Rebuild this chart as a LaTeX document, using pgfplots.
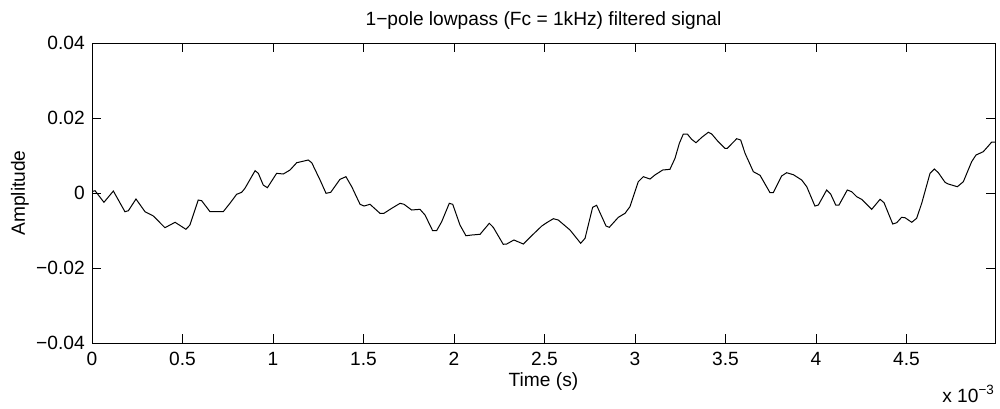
\documentclass[border=0pt]{standalone}
\usepackage{fontspec}
\setmainfont{Liberation Sans}
\usepackage{pgfplots}
\usepackage{pgfplotstable}
\pgfplotsset{compat=1.18}

% x in ms (axis shows x 10^-3 s), y in units of 1e-3
\pgfplotstableread{
x y
0.000 0.40
0.017 0.61
0.066 -2.48
0.118 0.53
0.182 -4.99
0.201 -4.72
0.243 -1.60
0.293 -4.99
0.339 -6.13
0.403 -9.25
0.459 -7.81
0.519 -9.68
0.541 -8.53
0.587 -1.87
0.606 -2.05
0.652 -4.99
0.725 -4.99
0.762 -2.75
0.799 -0.35
0.827 0.19
0.845 1.25
0.901 5.95
0.919 5.25
0.946 2.13
0.969 1.41
1.020 5.25
1.057 5.07
1.094 6.13
1.131 8.08
1.195 8.80
1.214 8.08
1.260 3.47
1.293 -0.08
1.319 0.19
1.370 3.65
1.403 4.35
1.435 1.68
1.481 -3.01
1.503 -3.47
1.536 -3.01
1.591 -5.41
1.613 -5.41
1.656 -4.08
1.702 -2.75
1.724 -3.01
1.766 -4.53
1.812 -4.35
1.840 -5.87
1.882 -10.05
1.904 -10.05
1.932 -7.65
1.974 -2.75
1.993 -3.01
2.033 -8.53
2.066 -11.39
2.098 -11.20
2.144 -11.01
2.195 -8.08
2.217 -9.15
2.272 -13.68
2.291 -13.60
2.331 -12.53
2.383 -13.60
2.420 -11.81
2.485 -8.80
2.512 -7.92
2.549 -6.85
2.576 -7.20
2.641 -9.87
2.700 -13.41
2.724 -12.08
2.766 -3.81
2.788 -3.28
2.840 -8.80
2.858 -9.15
2.908 -6.48
2.945 -5.41
2.972 -3.65
3.018 3.01
3.046 4.35
3.083 3.73
3.110 4.80
3.153 6.13
3.193 6.32
3.221 9.25
3.245 13.25
3.267 15.73
3.289 15.73
3.313 14.32
3.337 13.41
3.369 14.85
3.405 16.19
3.424 15.73
3.460 13.68
3.497 11.92
3.510 11.92
3.562 14.48
3.584 14.13
3.608 10.59
3.654 5.68
3.691 4.72
3.746 0.08
3.764 0.08
3.810 4.53
3.838 5.41
3.875 4.88
3.921 3.47
3.949 1.68
3.994 -3.47
4.013 -3.20
4.059 0.80
4.081 -0.27
4.109 -3.20
4.127 -3.20
4.173 0.80
4.197 0.35
4.225 -0.99
4.252 -1.68
4.308 -4.35
4.354 -1.68
4.376 -2.59
4.424 -8.27
4.446 -7.92
4.473 -6.48
4.492 -6.59
4.529 -7.81
4.556 -6.75
4.584 -2.75
4.630 5.25
4.654 6.40
4.676 5.41
4.713 2.85
4.731 2.40
4.781 1.68
4.814 3.01
4.860 8.35
4.884 10.13
4.924 11.01
4.952 12.53
4.971 13.60
4.989 13.60
}\sig

\begin{document}
\fontsize{11.5}{13.5}\selectfont
\begin{tikzpicture}
\begin{axis}[
  scale only axis,
  width=541.8pt, height=180pt,
  xmin=0, xmax=4.989,
  ymin=-40, ymax=40,
  xtick={0,0.5,1,1.5,2,2.5,3,3.5,4,4.5},
  xticklabels={0,0.5,1,1.5,2,2.5,3,3.5,4,4.5},
  ytick={-40,-20,0,20,40},
  yticklabels={−0.04,−0.02,0,0.02,0.04},
  tick align=inside,
  major tick length=5.2pt,
  tick style={black, line width=0.4pt},
  axis line style={black, line width=0.6pt},
  xticklabel style={inner sep=0pt, anchor=base, yshift=-13.6pt},
  yticklabel style={inner sep=0pt, anchor=east, xshift=-4.2pt},
  /pgf/number format/assume math mode=true,
  clip=true,
]
\addplot[black, line width=0.6pt, mark=none] table[x=x, y=y] {\sig};
\end{axis}
\node[anchor=base] at (270.9pt,190.8pt) {1−pole lowpass (Fc = 1kHz) filtered signal};
\node[anchor=base] at (270.9pt,-25.8pt) {Time (s)};
\node[rotate=90, anchor=base] at (-40.2pt,90pt) {Amplitude};
\node[anchor=base east, inner sep=0pt] at (541.8pt,-35.4pt) {x 10\textsuperscript{−3}};
\pgfresetboundingbox
\useasboundingbox (-55.2pt,-39pt) rectangle (544.8pt,205.8pt);
\end{tikzpicture}
\end{document}
